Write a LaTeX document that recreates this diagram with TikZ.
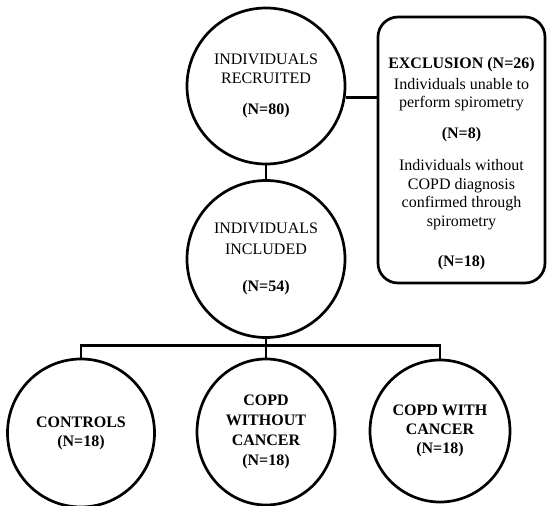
\documentclass[tikz,border=0pt]{standalone}
\usepackage{fontspec}
\setmainfont{Liberation Serif}
\usetikzlibrary{shapes.geometric}
\begin{document}
\begin{tikzpicture}[x=1pt,y=-1pt,
  bubble/.style={draw,ellipse,line width=2.7pt,align=center,inner sep=0pt,font=\fontsize{16}{19}\selectfont},
  link/.style={line width=2.8pt}]
\useasboundingbox (0,0) rectangle (547,506);
\node[bubble,minimum width=158,minimum height=156] (rec) at (266,86) {INDIVIDUALS\\RECRUITED\\[12pt]\textbf{(N=80)}};
\node[bubble,font=\fontsize{16}{21}\selectfont,minimum width=158,minimum height=157] (inc) at (266,259) {INDIVIDUALS\\INCLUDED\\[16pt]\textbf{(N=54)}};
\node[draw,line width=2.7pt,rounded corners=20pt,minimum width=167,minimum height=266] (exc) at (461.5,150) {};
\node[align=center,font=\fontsize{16}{18.5}\selectfont] (exctxt) at (461.5,164) {\textbf{EXCLUSION (N=26)}\\[2pt]Individuals unable to\\perform spirometry\\[12pt]\textbf{(N=8)}\\[14pt]Individuals without\\COPD diagnosis\\confirmed through\\spirometry\\[22pt]\textbf{(N=18)}};
\node[bubble,font=\fontsize{16}{19}\bfseries,minimum width=147,minimum height=148] (ctrl) at (81,433) {CONTROLS\\(N=18)};
\node[bubble,font=\fontsize{16}{20}\bfseries,minimum width=138,minimum height=146] (copd) at (266,432) {COPD\\WITHOUT\\CANCER\\(N=18)};
\node[bubble,font=\fontsize{16}{19}\bfseries,minimum width=140,minimum height=142] (cancer) at (440,431) {COPD WITH\\CANCER\\(N=18)};
\draw[link] (rec.-8.7) -- (rec.-8.7 -| exc.west);
\draw[link] (rec.south) -- (inc.north);
\draw[link] (inc.south) -- (copd.north);
\draw[link] (ctrl.north) -- ++(0,-12) -| (cancer.north);
\end{tikzpicture}
\end{document}
